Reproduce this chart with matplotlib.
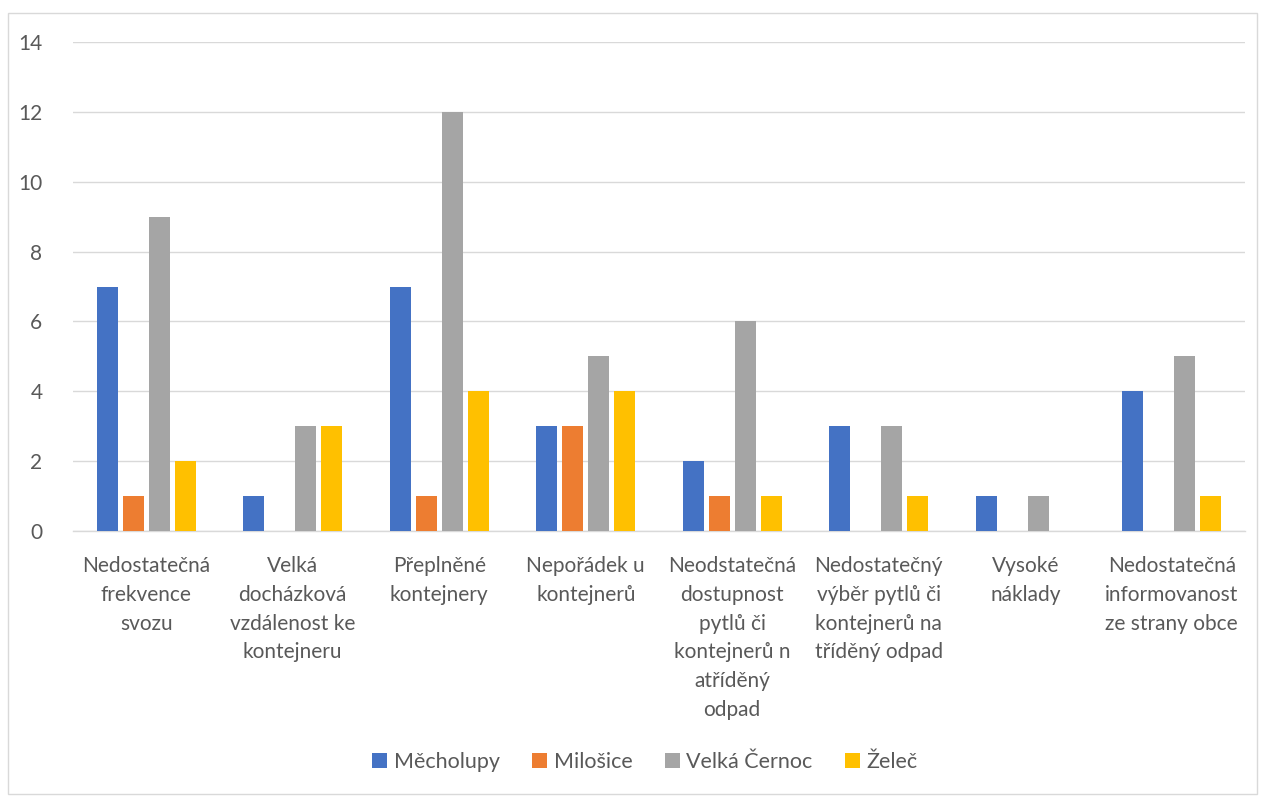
import numpy as np
import matplotlib.pyplot as plt
from matplotlib.patches import Rectangle

plt.rcParams['font.family'] = ['Lato', 'DejaVu Sans']

categories = [
    "Nedostatečná\nfrekvence\nsvozu",
    "Velká\ndocházková\nvzdálenost ke\nkontejneru",
    "Přeplněné\nkontejnery",
    "Nepořádek u\nkontejnerů",
    "Neodstatečná\ndostupnost\npytlů či\nkontejnerů n\natříděný\nodpad",
    "Nedostatečný\nvýběr pytlů či\nkontejnerů na\ntříděný odpad",
    "Vysoké\nnáklady",
    "Nedostatečná\ninformovanost\nze strany obce",
]
series_names = ["Měcholupy", "Milošice", "Velká Černoc", "Želeč"]
mecholupy = [7, 1, 7, 3, 2, 3, 1, 4]
milosice = [1, 0, 1, 3, 1, 0, 0, 0]
velka_cernoc = [9, 3, 12, 5, 6, 3, 1, 5]
zelec = [2, 3, 4, 4, 1, 1, 0, 1]
colors = ["#4472C4", "#ED7D31", "#A5A5A5", "#FFC000"]

fig = plt.figure(figsize=(12.62, 7.96), dpi=100)
fig.patches.append(Rectangle((8 / 1262, 0.002), 1249 / 1262, 1 - 13 / 796 - 0.002,
                             transform=fig.transFigure, fill=False,
                             edgecolor="#D9D9D9", linewidth=1))
ax = fig.add_axes([73 / 1262, 1 - 531 / 796, 1172 / 1262, 489 / 796])

x = np.arange(len(categories))
step = 0.177
width = 0.143
for i, (vals, name) in enumerate(zip([mecholupy, milosice, velka_cernoc, zelec], series_names)):
    ax.bar(x + (i - 1.5) * step, vals, width, color=colors[i], label=name, zorder=3)

ax.set_xlim(-0.5, len(categories) - 0.5)
ax.set_ylim(0, 14)
ax.set_yticks(range(0, 15, 2))
ax.grid(axis="y", color="#D9D9D9", linewidth=1, zorder=0)
for s in ["top", "right", "left"]:
    ax.spines[s].set_visible(False)
ax.spines["bottom"].set_color("#D9D9D9")
ax.spines["bottom"].set_linewidth(1)
ax.tick_params(axis="both", length=0, colors="#595959", labelsize=15)
ax.tick_params(axis="y", pad=22)
ax.tick_params(axis="x", pad=18)
ax.set_xticks(x)
ax.set_xticklabels(categories, linespacing=1.55)

leg = fig.legend(loc="center", bbox_to_anchor=(0.511, 1 - 762 / 796), ncol=4,
                 frameon=False, fontsize=15.5, handlelength=0.7, handleheight=0.7,
                 handletextpad=0.3, columnspacing=1.5)
for t in leg.get_texts():
    t.set_color("#595959")

fig.savefig("out.png", dpi=100)
